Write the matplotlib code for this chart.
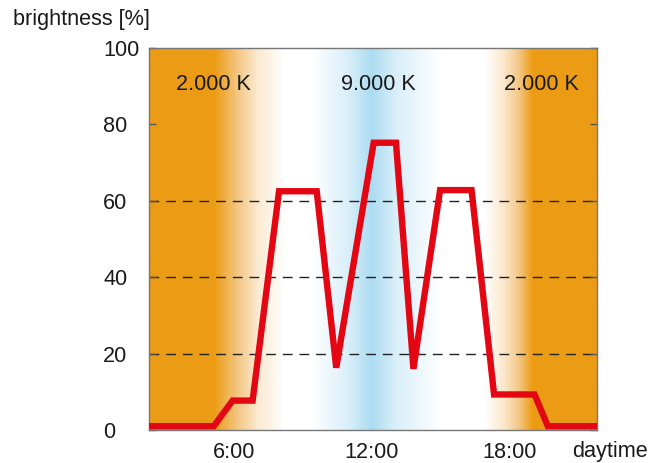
import matplotlib
matplotlib.use('Agg')
import matplotlib.pyplot as plt
import numpy as np
from matplotlib.colors import LinearSegmentedColormap

plt.rcParams.update({
    'font.family': ['Liberation Sans', 'DejaVu Sans'],
    'font.size': 15.6,
})

# ── data ──────────────────────────────────────────────────────────────
hours = [2.3, 5.12, 5.94, 6.81, 7.96, 9.60, 10.45, 12.08, 13.05,
         13.81, 14.97, 16.34, 17.32, 19.08, 19.66, 21.8]
brightness = [1, 1, 7.7, 7.7, 62.5, 62.5, 16.3, 75.2, 75.2,
              16.0, 62.8, 62.8, 9.3, 9.3, 1, 1]

x_ticks = [6, 12, 18]
x_ticklabels = ['6:00', '12:00', '18:00']
y_ticks = [0, 20, 40, 60, 80, 100]
grid_levels = [20, 40, 60]

temp_labels = ['2.000 K', '9.000 K', '2.000 K']
temp_hours = [5.1, 12.3, 19.4]

XMIN, XMAX = 2.3, 21.8

# colour temperature background (hour, colour)
ORANGE = (236/255, 156/255, 20/255)
MIDOR = (244/255, 200/255, 135/255)
PALE = (251/255, 233/255, 208/255)
WHITE = (1, 1, 1)
BLUE = (172/255, 220/255, 242/255)
PBLUE = (216/255, 238/255, 249/255)
stops = [(XMIN, ORANGE), (5.13, ORANGE), (6.2, MIDOR), (7.0, PALE),
         (8.2, WHITE), (9.4, WHITE), (11.0, PBLUE), (12.0, BLUE),
         (13.0, PBLUE), (15.0, WHITE), (16.9, WHITE), (17.7, PALE),
         (18.4, MIDOR), (19.0, ORANGE), (XMAX, ORANGE)]
pos = [(h - XMIN) / (XMAX - XMIN) for h, _ in stops]
cmap = LinearSegmentedColormap.from_list('ct', list(zip(pos, [c for _, c in stops])), N=1024)

fig = plt.figure(figsize=(6.52, 4.63), dpi=100)
ax = fig.add_axes([149/652, 1 - 430/463, (597 - 149)/652, (430 - 48)/463])

grad = np.linspace(0, 1, 1024).reshape(1, -1)
ax.imshow(grad, cmap=cmap, aspect='auto', extent=[XMIN, XMAX, 0, 100],
          zorder=0, interpolation='bilinear')

for lvl in grid_levels:
    ax.axhline(lvl, color='#222222', lw=1.0, dashes=(7, 5), zorder=1)

ax.plot(hours, brightness, color='#E30613', lw=4.6, solid_joinstyle='miter',
        zorder=3)

for h, t in zip(temp_hours, temp_labels):
    ax.text(h, 90.5, t, ha='center', va='center', fontsize=15.6, color='#1a1a1a')

ax.set_xlim(XMIN, XMAX)
ax.set_ylim(0, 100)
ax.set_xticks(x_ticks)
ax.set_xticklabels(x_ticklabels)
ax.set_yticks(y_ticks)
ax.tick_params(axis='x', length=0, pad=9, labelsize=15.6, colors='#1a1a1a')
ax.tick_params(axis='y', direction='in', length=5, width=1, color='#555555',
               left=True, right=True, labelsize=15.6, labelcolor='#1a1a1a', pad=33)
for lab in ax.get_yticklabels():
    lab.set_horizontalalignment('left')

for s in ax.spines.values():
    s.set_color('#777777')
    s.set_linewidth(1)

fig.text(13/652, 1 - 20/463, 'brightness [%]', ha='left', va='center',
         fontsize=15.6, color='#1a1a1a')
fig.text(572/652, 1 - 452/463, 'daytime', ha='left', va='center',
         fontsize=15.6, color='#1a1a1a')

fig.savefig('out.png', dpi=100)
